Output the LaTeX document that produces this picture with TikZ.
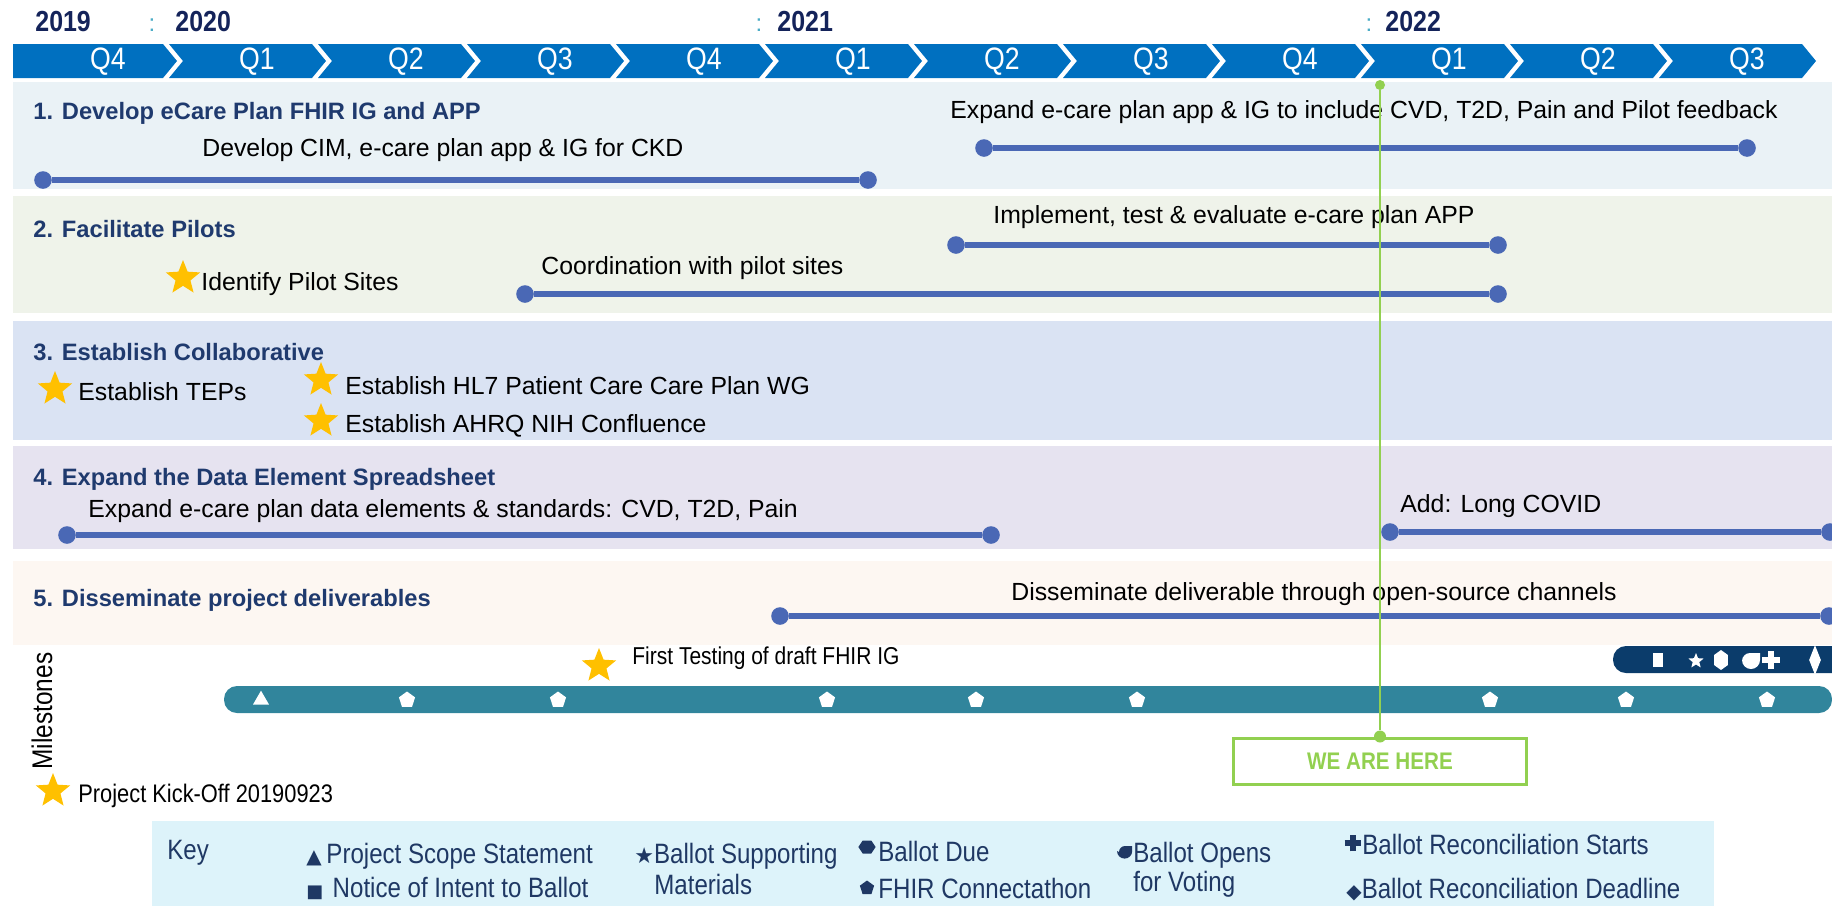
\documentclass[tikz,border=0pt]{standalone}
\usepackage{fontspec}
\setmainfont{Liberation Sans}
\newfontfamily\condfont[FakeStretch=0.86]{Liberation Sans}
\newfontfamily\symfont{DejaVu Sans}
\usetikzlibrary{shapes.geometric,shapes.misc}
\definecolor{chev}{HTML}{0070C0}
\definecolor{yearc}{HTML}{14235A}
\definecolor{colonc}{HTML}{4BACC6}
\definecolor{bandA}{HTML}{EAF2F6}
\definecolor{bandB}{HTML}{EFF3EA}
\definecolor{bandC}{HTML}{DAE3F3}
\definecolor{bandD}{HTML}{E6E3F0}
\definecolor{bandE}{HTML}{FDF7F2}
\definecolor{titlec}{HTML}{1F3A6E}
\definecolor{barc}{HTML}{4A68B5}
\definecolor{starc}{HTML}{FFC000}
\definecolor{tealc}{HTML}{31859C}
\definecolor{navyc}{HTML}{0B3C6B}
\definecolor{greenc}{HTML}{92D050}
\definecolor{keyfill}{HTML}{DDF3FA}
\definecolor{keytext}{HTML}{1F3864}
\tikzset{
  yearlab/.style={anchor=west, inner sep=0, font=\condfont\bfseries\fontsize{14.5}{16}\selectfont, text=yearc},
  colonlab/.style={inner sep=0, font=\fontsize{12}{14}\selectfont, text=colonc},
  qlab/.style={inner sep=0, font=\condfont\fontsize{15.5}{17}\selectfont, text=white},
  titlelab/.style={anchor=west, inner sep=0, font=\bfseries\fontsize{11.85}{14}\selectfont, text=titlec},
  bodylab/.style={anchor=west, inner sep=0, font=\fontsize{12.4}{14}\selectfont, text=black},
  endpt/.style={circle, fill=barc, minimum size=8.8pt, inner sep=0},
  taskbar/.style={barc, line width=3pt},
  gstar/.style={star, star points=5, star point ratio=2.3, fill=starc, minimum size=18pt, inner sep=0},
  wpent/.style={regular polygon, regular polygon sides=5, fill=white, minimum size=8.5pt, inner sep=0},
  keyt/.style={anchor=west, inner sep=0, font=\condfont\fontsize{14}{16}\selectfont, text=keytext},
  keysym/.style={fill=keytext, inner sep=0},
}
\begin{document}
\begin{tikzpicture}[x=0.5pt,y=-0.5pt]
\useasboundingbox (0,0) rectangle (1832,906);
% years
\node[yearlab] (y2019) at (35,22) {2019};
\node[colonlab] (c1) at (152,25) {:};
\node[yearlab] (y2020) at (175,22) {2020};
\node[colonlab] (c2) at (759,25) {:};
\node[yearlab] (y2021) at (777,22) {2021};
\node[colonlab] (c3) at (1369,25) {:};
\node[yearlab] (y2022) at (1385,22) {2022};
% chevrons
\fill[chev] (13,44) -- (163,44) -- (177,61) -- (163,78) -- (13,78) -- cycle;
\foreach \i in {1,...,11} {
  \fill[chev] ({20+149*\i},44) -- ({163+149*\i},44) -- ({177+149*\i},61) -- ({163+149*\i},78) -- ({20+149*\i},78) -- ({34+149*\i},61) -- cycle;
}
\foreach \i/\q in {0/Q4,1/Q1,2/Q2,3/Q3,4/Q4,5/Q1,6/Q2,7/Q3,8/Q4,9/Q1,10/Q2,11/Q3} {
  \node[qlab] (q\i) at ({108+149*\i},62) {\q};
}
% bands
\fill[bandA] (13,82) rectangle (1832,189);
\fill[bandB] (13,196) rectangle (1832,313);
\fill[bandC] (13,321) rectangle (1832,440);
\fill[bandD] (13,446) rectangle (1832,549);
\fill[bandE] (13,561) rectangle (1832,645);
% band 1
\node[titlelab] (t1) at (33,113) {1. Develop eCare Plan FHIR IG and APP};
\node[bodylab] (a1) at (202,150) {Develop CIM, e-care plan app \& IG for CKD};
\node[endpt] (a1s) at (43,180) {};
\node[endpt] (a1e) at (868,180) {};
\draw[taskbar] (a1s) -- (a1e);
\node[bodylab] (b1) at (950,112) {Expand e-care plan app \& IG to include CVD, T2D, Pain and Pilot feedback};
\node[endpt] (b1s) at (984,148) {};
\node[endpt] (b1e) at (1747,148) {};
\draw[taskbar] (b1s) -- (b1e);
% band 2
\node[titlelab] (t2) at (33,229) {2. Facilitate Pilots};
\node[bodylab] (a2) at (993,217) {Implement, test \& evaluate e-care plan APP};
\node[endpt] (a2s) at (956,245) {};
\node[endpt] (a2e) at (1498,245) {};
\draw[taskbar] (a2s) -- (a2e);
\node[gstar] (s2) at (183,278) {};
\node[bodylab] (b2) at (201,284) {Identify Pilot Sites};
\node[bodylab] (c2t) at (541,268) {Coordination with pilot sites};
\node[endpt] (c2s) at (525,294) {};
\node[endpt] (c2e) at (1498,294) {};
\draw[taskbar] (c2s) -- (c2e);
% band 3
\node[titlelab] (t3) at (33,352) {3. Establish Collaborative};
\node[gstar] (s3a) at (55,389) {};
\node[bodylab] (a3) at (78,392) {Establish TEPs};
\node[gstar] (s3b) at (321,380) {};
\node[bodylab] (b3) at (345,386) {Establish HL7 Patient Care Care Plan WG};
\node[gstar] (s3c) at (321,421) {};
\node[bodylab] (c3t) at (345,426) {Establish AHRQ NIH Confluence};
% band 4
\node[titlelab] (t4) at (33,479) {4. Expand the Data Element Spreadsheet};
\node[bodylab] (a4) at (88,511) {Expand e-care plan data elements \& standards: CVD, T2D, Pain};
\node[endpt] (a4s) at (67,535) {};
\node[endpt] (a4e) at (991,535) {};
\draw[taskbar] (a4s) -- (a4e);
\node[bodylab] (b4) at (1400,506) {Add: Long COVID};
\node[endpt] (b4s) at (1390,532) {};
\node[endpt] (b4e) at (1830,532) {};
\draw[taskbar] (b4s) -- (b4e);
% band 5
\node[titlelab] (t5) at (33,600) {5. Disseminate project deliverables};
\node[bodylab] (a5) at (1011,594) {Disseminate deliverable through open-source channels};
\node[endpt] (a5s) at (780,616) {};
\node[endpt] (a5e) at (1829,616) {};
\draw[taskbar] (a5s) -- (a5e);
% milestones
\node[rotate=90, inner sep=0, font=\condfont\fontsize{14.2}{16}\selectfont] (ms) at (42,711) {Milestones};
\fill[navyc, rounded corners=6.5pt] (1613,646) rectangle (1846,673);
\fill[tealc, rounded corners=6.5pt] (224,686) rectangle (1832,713);
\node[isosceles triangle, isosceles triangle apex angle=60, shape border rotate=90, fill=white, minimum height=7pt, inner sep=0] (m0) at (261,700) {};
\foreach \x [count=\k] in {407,558,827,976,1137,1490,1626,1767} {
  \node[wpent] (m\k) at (\x,700) {};
}
\node[fill=white, minimum width=5pt, minimum height=7pt, inner sep=0] (n1) at (1658,660) {};
\node[star, star points=5, star point ratio=2.3, fill=white, minimum size=8pt, inner sep=0] (n2) at (1696,661) {};
\node[regular polygon, regular polygon sides=6, shape border rotate=90, fill=white, minimum size=8pt, inner sep=0, yscale=1.25] (n3) at (1721,660) {};
\fill[white] (1742,660) arc[start angle=180, end angle=360, radius=4.5pt] -- (1760,653) -- (1750,653) arc[start angle=90, end angle=180, radius=4pt] -- cycle;
\node[cross out, draw=white, line width=3pt, minimum size=3.2pt, inner sep=0, rotate=45] (n5) at (1771,660) {};
\node[diamond, fill=white, minimum width=6pt, minimum height=15pt, inner sep=0, aspect=0.4] (n6) at (1815,660) {};
\node[gstar] (s6) at (599,666) {};
\node[anchor=west, inner sep=0, font=\condfont\fontsize{12.2}{14}\selectfont] (ft) at (632,658) {First Testing of draft FHIR IG};
\node[gstar] (s7) at (53,791) {};
\node[anchor=west, inner sep=0, font=\condfont\fontsize{12.7}{14}\selectfont] (ko) at (78,796) {Project Kick-Off 20190923};
% we are here
\node[draw=greenc, line width=1.5pt, minimum width=146.5pt, minimum height=23pt, inner sep=0, text=greenc, font=\condfont\bfseries\fontsize{12}{14}\selectfont] (here) at (1380,761) {WE ARE HERE};
\node[circle, fill=greenc, minimum size=5pt, inner sep=0] (gtop) at (1380,85) {};
\node[circle, fill=greenc, minimum size=6pt, inner sep=0] (gbot) at (here.north) {};
\draw[greenc, line width=1.2pt] (gtop) -- (gbot);
% key
\fill[keyfill] (152,821) rectangle (1714,906);
\node[keyt] (k0) at (167,853) {Key};
\node[keyt] (k1) at (306,856) {{\symfont\fontsize{10}{12}\selectfont ▲}\,Project Scope Statement};
\node[keyt] (k2) at (306,888) {{\symfont\fontsize{9}{12}\selectfont ■}\,\,Notice of Intent to Ballot};
\node[keyt] (k3) at (634,856) {{\symfont\fontsize{11}{12}\selectfont ★}Ballot Supporting};
\node[keyt] (k3b) at (654,884) {Materials};
\node[regular polygon, regular polygon sides=6, keysym, minimum size=7.5pt, xscale=1.15] (ks4) at (867,847) {};
\node[keyt] (k4) at (878,851) {Ballot Due};
\node[regular polygon, regular polygon sides=5, keysym, minimum size=7.5pt] (ks5) at (867,888) {};
\node[keyt] (k5) at (878,888) {FHIR Connectathon};
\fill[keytext] (1117,851) arc[start angle=180, end angle=360, radius=3.8pt] -- (1132,846) -- (1125,846) arc[start angle=90, end angle=180, radius=3pt] -- cycle;
\node[keyt] (k6) at (1133,855) {Ballot Opens};
\node[keyt] (k6b) at (1133,884) {for Voting};
\node[cross out, draw=keytext, line width=3pt, minimum size=3pt, inner sep=0, rotate=45] (ks7) at (1353,843) {};
\node[keyt] (k7) at (1362,844) {Ballot Reconciliation Starts};
\node[keyt] (k8) at (1346,890) {{\symfont\fontsize{10}{12}\selectfont ◆}Ballot Reconciliation Deadline};
\end{tikzpicture}
\end{document}
